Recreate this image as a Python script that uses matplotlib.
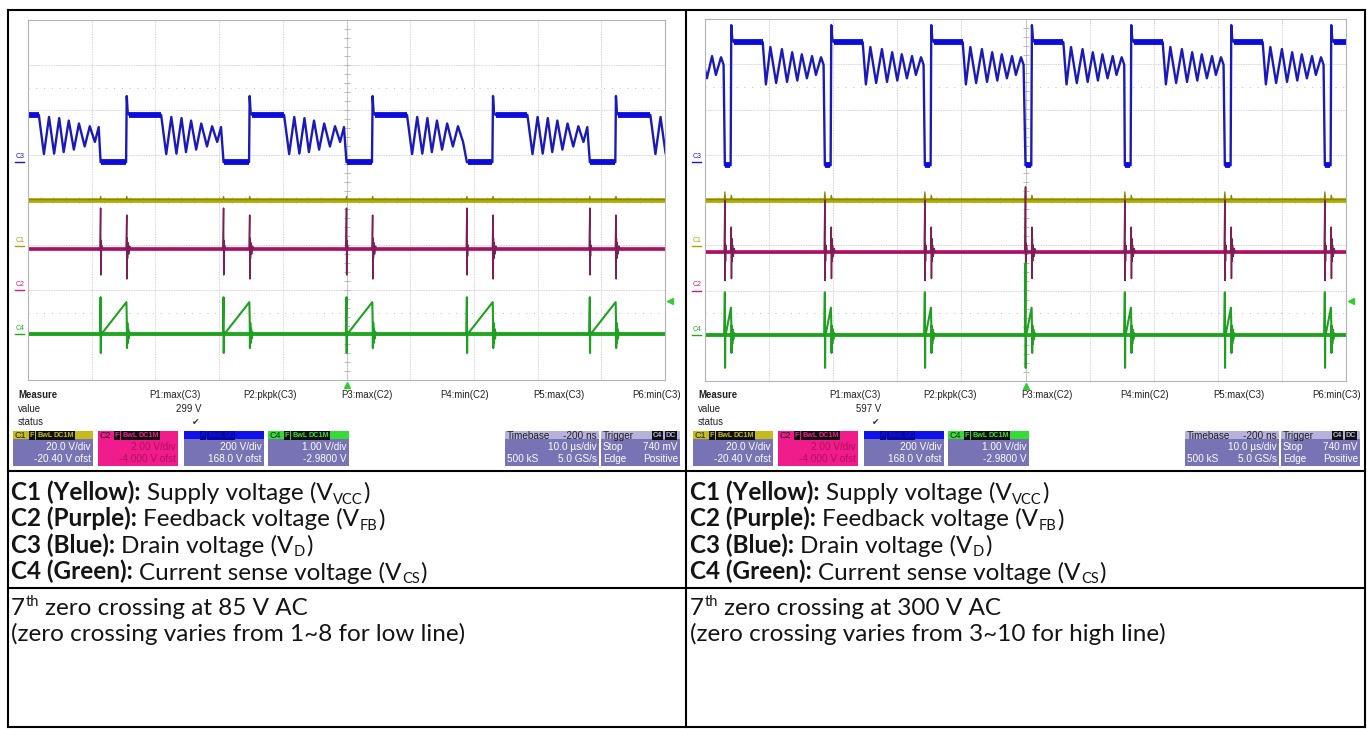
import numpy as np
import matplotlib.pyplot as plt
from matplotlib.patches import Rectangle
from matplotlib.transforms import blended_transform_factory

W, H = 1370, 729

# channel setup as shown on the scope (V/div, offset)
ch_names = ['C1', 'C2', 'C3', 'C4']
ch_vdiv = [20.0, 2.0, 200.0, 1.0]
ch_ofst = [-20.40, -4.0, 168.0, -2.98]
ch_color = ['#a8a400', '#d8187c', '#1818d0', '#22a822']

# ---- left capture, 85 V AC ----
l_on = [-57.8, -38.6, -19.3, 0.0, 18.9, 38.2]          # MOSFET turn-on, us
l_drain_dt = [0.0, 0.2, 4.0, 4.1, 4.25, 4.5, 9.5, 10.3, 11.1, 11.9, 12.7, 13.4,
              14.2, 15.0, 15.8, 16.7, 17.5, 18.3, 18.9]
l_drain_v = [0, 0, 0, 294, 222, 210, 210, 36, 201, 38, 196, 45, 185, 56, 172, 70,
             160, 90, 156]
l_drain_flat = [(0.1, 4.0, 0), (4.5, 9.5, 210)]
l_vcc_dt = [-0.1, 0.0, 0.1, 4.0, 4.1, 4.25]
l_vcc_v = [20.6, 22.0, 20.6, 20.6, 22.0, 20.6]
l_fb_dt = [-0.1, 0.0, 0.03, 0.06, 0.1, 0.15, 0.25, 4.0, 4.1, 4.13, 4.17, 4.22, 4.3, 4.4, 4.55, 4.7]
l_fb_v = [1.82, 3.64, 0.67, 2.2, 1.5, 2.0, 1.82, 1.82, 3.33, 0.49, 2.3, 1.4, 2.1, 1.6, 1.95, 1.82]
l_cs_dt = [-0.1, 0.0, 0.03, 0.06, 0.12, 4.05, 4.1, 4.14, 4.2, 4.26, 4.33, 4.42, 4.55, 4.7]
l_cs_v = [0, 0.82, -0.42, 0.05, 0.0, 0.71, 0.38, -0.31, 0.25, -0.2, 0.12, -0.1, 0.04, 0]

# ---- right capture, 300 V AC ----
r_on = [-62.5, -46.9, -31.3, -15.7, 0.0, 15.5, 31.1, 46.7]
r_drain_dt = [0.0, 0.15, 0.9, 1.0, 1.15, 1.4, 5.9, 6.4, 7.1, 8.0, 8.9, 9.7, 10.5,
              11.3, 12.0, 12.8, 13.6, 14.2, 15.0, 15.4]
r_drain_v = [-15, -15, -15, 605, 545, 530, 530, 343, 508, 349, 499, 354, 485, 360,
             476, 370, 468, 385, 463, 430]
r_drain_flat = [(0.05, 0.85, -15), (1.4, 5.9, 530)]
r_vcc_dt = [-0.1, 0.0, 0.1, 0.9, 1.0, 1.15]
r_vcc_v = [20.6, 24.0, 20.6, 20.6, 22.5, 20.6]
r_fb_dt = [-0.1, 0.0, 0.03, 0.06, 0.1, 0.15, 0.25, 0.95, 1.0, 1.03, 1.07, 1.12, 1.2, 1.3, 1.45, 1.6]
r_fb_v = [1.69, 4.0, 0.44, 2.1, 1.3, 2.0, 1.69, 1.69, 2.8, 0.53, 2.3, 1.3, 2.0, 1.5, 1.85, 1.69]
r_fb_top = [4.0, 4.0, 4.0, 4.0, 4.58, 4.0, 4.0, 4.0]
r_cs_dt = [-0.1, 0.0, 0.03, 0.06, 0.12, 0.95, 1.0, 1.04, 1.1, 1.16, 1.23, 1.32, 1.45, 1.6]
r_cs_v = [0, 0.94, -0.73, 0.05, 0.0, 0.60, 0.25, -0.4, 0.2, -0.2, 0.12, -0.1, 0.04, 0]
r_cs_top = [0.94, 0.94, 0.94, 0.94, 1.58, 0.94, 0.94, 0.94]

measure_labels = ['P1:max(C3)', 'P2:pkpk(C3)', 'P3:max(C2)', 'P4:min(C2)', 'P5:max(C3)', 'P6:min(C3)']
p1_values = ['299 V', '597 V']

row_bold = ['C1 (Yellow):', 'C2 (Purple):', 'C3 (Blue):', 'C4 (Green):']
row_desc = ['Supply voltage (V', 'Feedback voltage (V', 'Drain voltage (V', 'Current sense voltage (V']
row_sub = ['VCC', 'FB', 'D', 'CS']
zc_line = ['zero crossing at 85 V AC', 'zero crossing at 300 V AC']
zc_note = ['(zero crossing varies from 1~8 for low line)',
           '(zero crossing varies from 3~10 for high line)']


def to_div(v, ch):
    i = ch_names.index(ch)
    return (np.asarray(v, dtype=float) + ch_ofst[i]) / ch_vdiv[i]


def build(on_times, dt, v, base=None, tops=None):
    ts, vs = [], []
    for i, t0 in enumerate(on_times):
        nxt = on_times[i + 1] if i + 1 < len(on_times) else 60
        for k, (d, val) in enumerate(zip(dt, v)):
            if t0 + d < nxt:
                if tops is not None and k == 1:
                    val = tops[i]
                ts.append(t0 + d)
                vs.append(val)
    if base is not None:
        ts.append(60)
        vs.append(base)
    return np.array(ts), np.array(vs)


fig = plt.figure(figsize=(W / 100, H / 100), dpi=100)
cv = fig.add_axes([0, 0, 1, 1])
cv.set_xlim(0, W)
cv.set_ylim(H, 0)
cv.axis('off')
renderer = fig.canvas.get_renderer()

SCOPE_FONT = ['Liberation Sans', 'DejaVu Sans']


def scope(px0, px1, py0, py1, on, drain, flat, vcc, fb, cs, fb_top=None, cs_top=None):
    ax = fig.add_axes([px0 / W, 1 - py1 / H, (px1 - px0) / W, (py1 - py0) / H])
    ax.set_xlim(-50, 50)
    ax.set_ylim(-4, 4)
    ax.set_xticks([])
    ax.set_yticks([])
    for s in ax.spines.values():
        s.set_color('#b4b4b4')
        s.set_linewidth(0.8)
    for x in range(-40, 50, 10):
        ax.axvline(x, color='#d4d4d4', lw=0.6, ls=(0, (2, 1)), zorder=0)
    for y in range(-3, 4):
        ax.axhline(y, color='#d4d4d4', lw=0.6, ls=(0, (2, 1)), zorder=0)
    for y in (2.5, -2.5):
        ax.axhline(y, color='#bdbdbd', lw=0.7, ls=(0, (1, 7)), zorder=0)
    ax.axvline(0, color='#c4c4c4', lw=0.7, zorder=0)
    ax.axhline(0, color='#c4c4c4', lw=0.7, zorder=0)
    tk = np.arange(-4, 4.01, 0.2)
    ax.plot(np.zeros_like(tk), tk, ls='none', marker='_', ms=5, mew=0.6, color='#b0b0b0', zorder=0)
    tk = np.arange(-50, 50.01, 2)
    ax.plot(tk, np.zeros_like(tk), ls='none', marker='|', ms=5, mew=0.6, color='#b0b0b0', zorder=0)

    t, v = build(on, *vcc, base=vcc[1][0])
    ax.axhline(to_div(vcc[1][0], 'C1'), color='#b0ac00', lw=3.4, zorder=1.9)
    ax.plot(t, to_div(v, 'C1'), color='#8a8600', lw=0.9)

    t, v = build(on, *fb, base=fb[1][0], tops=fb_top)
    ax.axhline(to_div(fb[1][0], 'C2'), color='#d8187c', lw=2.8, zorder=1.9)
    ax.plot(t, to_div(v, 'C2'), color='#7c1f55', lw=1.1)

    t, v = build(on, *cs, base=0, tops=cs_top)
    ax.axhline(to_div(0, 'C4'), color='#22a822', lw=2.8, zorder=1.9)
    ax.plot(t, to_div(v, 'C4'), color='#20a020', lw=1.5)

    t, v = build(on, *drain)
    ax.plot(t, to_div(v, 'C3'), color='#1a1ab8', lw=1.7)
    for t0 in on:
        for a, b, lvl in flat:
            ax.hlines(to_div(lvl, 'C3'), t0 + a, t0 + b, color='#0c0cdc', lw=4.2)

    # ground markers on the left edge
    tr = blended_transform_factory(ax.transAxes, ax.transData)
    for ch, col in zip(ch_names, ch_color):
        y0 = to_div(0, ch)
        ax.text(-0.013, y0 + 0.05, ch, transform=tr, fontsize=5, color=col, ha='center',
                va='bottom', family=SCOPE_FONT, clip_on=False)
        ax.plot([-0.02, -0.006], [y0, y0], transform=tr, color=col, lw=1, clip_on=False)
    # trigger markers
    ax.plot([0], [-4.12], marker='^', ms=5, color='#33cc33', clip_on=False, ls='none')
    ax.plot([1.008], [to_div(0.74, 'C4')], transform=tr, marker='<', ms=5, color='#33cc33',
            clip_on=False, ls='none')
    return ax


def label(x, y, txt, x1, y1):
    t = cv.text(x, y, txt, fontsize=6.2, color='#303030', ha='left', va='baseline', family=SCOPE_FONT)
    w = t.get_window_extent(renderer).width
    cv.plot([x - 1, x + w + 1], [y + 2, y + 2], color='#303030', lw=0.7)
    cv.plot([x + 2, x1], [y + 2, y1], color='#303030', lw=0.7)


def badge(x, y, txt, fg, bg):
    cv.text(x, y, txt, fontsize=5.2, color=fg, ha='left', va='center', family=SCOPE_FONT,
            fontweight='bold', bbox=dict(boxstyle='square,pad=0.12', fc=bg, ec='none'))


BODY = '#7773b4'
PF = 7.2


def chan_box(x, y, w, head, name, badges, line1, line2, body, txtc, badge_fg):
    cv.add_patch(Rectangle((x, y), w, 8, fc=head, ec='none'))
    cv.add_patch(Rectangle((x, y + 8), w, 27, fc=body, ec='none'))
    cv.text(x + 2, y + 4.5, name, fontsize=6.5, color='#202020' if name else head, ha='left',
            va='center', family=SCOPE_FONT)
    bx = x + 17
    for b in badges:
        badge(bx, y + 4.5, b, badge_fg, '#101010' if badge_fg != '#1010e8' else '#0808a0')
        bx += 3 + 4.3 * len(b)
    cv.text(x + w - 2, y + 16, line1, fontsize=PF, color=txtc, ha='right', va='center', family=SCOPE_FONT)
    cv.text(x + w - 2, y + 28, line2, fontsize=PF, color=txtc, ha='right', va='center', family=SCOPE_FONT)


def panel(x0, val):
    cv.text(x0 + 18, 395, 'Measure', fontsize=6.9, fontweight='bold', color='#202020',
            va='center', family=SCOPE_FONT)
    cv.text(x0 + 18, 409, 'value', fontsize=6.9, color='#202020', va='center', family=SCOPE_FONT)
    cv.text(x0 + 18, 422, 'status', fontsize=6.9, color='#202020', va='center', family=SCOPE_FONT)
    for i, m in enumerate(measure_labels):
        cv.text(x0 + 201 + 96 * i, 395, m, fontsize=6.9, color='#202020', ha='right',
                va='center', family=SCOPE_FONT)
    cv.text(x0 + 201, 409, val, fontsize=6.9, color='#202020', ha='right', va='center',
            family=SCOPE_FONT)
    cv.text(x0 + 199, 422, '\u2714', fontsize=6.5, color='#303030', ha='right', va='center',
            family=['DejaVu Sans'])
    y = 431
    chan_box(x0 + 13, y, 80, '#c4bc1c', 'C1', ['F', 'BwL', 'DC1M'], '20.0 V/div', '-20.40 V ofst',
             BODY, 'white', '#c4bc1c')
    chan_box(x0 + 98, y, 80, '#f01c8c', 'C2', ['F', 'BwL', 'DC1M'], '2.00 V/div', '-4.000 V ofst',
             '#f01c8c', '#b0105e', '#f01c8c')
    chan_box(x0 + 184, y, 80, '#1010e8', '', ['F', 'BwL', 'DC'], '200 V/div', '168.0 V ofst',
             BODY, 'white', '#1010e8')
    chan_box(x0 + 268, y, 81, '#36dc36', 'C4', ['F', 'BwL', 'DC1M'], '1.00 V/div', '-2.9800 V',
             BODY, 'white', '#36dc36')
    # timebase
    cv.add_patch(Rectangle((x0 + 505, y), 94, 8, fc='#b6b2dc', ec='none'))
    cv.add_patch(Rectangle((x0 + 505, y + 8), 94, 27, fc=BODY, ec='none'))
    cv.text(x0 + 507, y + 4.5, 'Timebase', fontsize=PF, color='#202020', va='center', family=SCOPE_FONT)
    cv.text(x0 + 597, y + 4.5, '-200 ns', fontsize=PF, color='#202020', ha='right', va='center',
            family=SCOPE_FONT)
    cv.text(x0 + 597, y + 16, '10.0 \u00b5s/div', fontsize=PF, color='white', ha='right',
            va='center', family=SCOPE_FONT)
    cv.text(x0 + 507, y + 28, '500 kS', fontsize=PF, color='white', va='center', family=SCOPE_FONT)
    cv.text(x0 + 597, y + 28, '5.0 GS/s', fontsize=PF, color='white', ha='right', va='center',
            family=SCOPE_FONT)
    # trigger
    cv.add_patch(Rectangle((x0 + 601, y), 79, 8, fc='#b6b2dc', ec='none'))
    cv.add_patch(Rectangle((x0 + 601, y + 8), 79, 27, fc=BODY, ec='none'))
    cv.text(x0 + 603, y + 4.5, 'Trigger', fontsize=PF, color='#202020', va='center', family=SCOPE_FONT)
    badge(x0 + 653, y + 4.5, 'C4', '#b6b2dc', '#101010')
    badge(x0 + 666, y + 4.5, 'DC', '#b6b2dc', '#101010')
    cv.text(x0 + 603, y + 16, 'Stop', fontsize=PF, color='white', va='center', family=SCOPE_FONT)
    cv.text(x0 + 678, y + 16, '740 mV', fontsize=PF, color='white', ha='right', va='center',
            family=SCOPE_FONT)
    cv.text(x0 + 603, y + 28, 'Edge', fontsize=PF, color='white', va='center', family=SCOPE_FONT)
    cv.text(x0 + 678, y + 28, 'Positive', fontsize=PF, color='white', ha='right', va='center',
            family=SCOPE_FONT)


scope(28, 665, 20, 380, l_on, (l_drain_dt, l_drain_v), l_drain_flat,
      (l_vcc_dt, l_vcc_v), (l_fb_dt, l_fb_v), (l_cs_dt, l_cs_v))
scope(705, 1346, 19, 381, r_on, (r_drain_dt, r_drain_v), r_drain_flat,
      (r_vcc_dt, r_vcc_v), (r_fb_dt, r_fb_v), (r_cs_dt, r_cs_v), fb_top=r_fb_top, cs_top=r_cs_top)

for x0, gx in ((0, 662), (680, 1343)):
    t = cv.text(gx, 31, 'LeCroy', fontsize=8, color='#404040', ha='right', va='baseline', family=SCOPE_FONT)
    w = t.get_window_extent(renderer).width
    cv.plot([gx - w, gx], [33, 33], color='#404040', lw=0.7)
    panel(x0, p1_values[0 if x0 == 0 else 1])

# trace names with leader lines
label(343, 107, 'Drain', 372, 121)
label(309, 185, 'Vcc', 334, 199)
label(318, 235, 'FB', 342, 249)
label(313, 320, 'Vcs', 340, 334)
label(996, 153, 'Drain', 1027, 166)
label(989, 185, 'Vcc', 1012, 199)
label(995, 238, 'FB', 1018, 251)
label(993, 321, 'Vcs', 1015, 334)

# ---- table ----
for xs, ys in (([8, 1365], [10, 10]), ([8, 1365], [471, 471]), ([8, 1365], [588, 588]),
               ([8, 1365], [727, 727]), ([8, 8], [10, 727]), ([686, 686], [10, 727]),
               ([1365, 1365], [10, 727])):
    cv.plot(xs, ys, color='black', lw=1.5, solid_capstyle='projecting')

MAIN = ['Lato', 'DejaVu Sans']
FS = 17.5
_a = cv.text(100, 100, 'a a', fontsize=FS, family=MAIN)
_b = cv.text(100, 100, 'aa', fontsize=FS, family=MAIN)
sp = _a.get_window_extent(renderer).width - _b.get_window_extent(renderer).width
_a.remove()
_b.remove()


def rich(x, y, parts):
    for txt, bold, kind, gap in parts:
        fs = FS * (0.6 if kind else 1)
        dy = {None: 0, 'sub': 3.5, 'sup': -9}[kind]
        t = cv.text(x, y + dy, txt, fontsize=fs, fontweight='bold' if bold else 'normal',
                    family=MAIN, ha='left', va='baseline', color='#141414')
        x += t.get_window_extent(renderer).width + (sp if gap else 0.5)


for cx in (11, 690):
    for i in range(4):
        rich(cx, 500 + 26.5 * i, [(row_bold[i], True, None, True), (row_desc[i], False, None, False),
                                  (row_sub[i], False, 'sub', False), (')', False, None, False)])
for j, cx in enumerate((11, 690)):
    rich(cx, 615, [('7', False, None, False), ('th', False, 'sup', True), (zc_line[j], False, None, False)])
    rich(cx, 641, [(zc_note[j], False, None, False)])

fig.savefig('out.png', dpi=100)
